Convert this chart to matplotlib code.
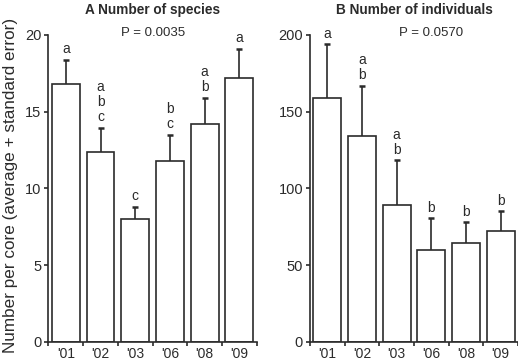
import numpy as np
import matplotlib
matplotlib.use("Agg")
from matplotlib import pyplot as plt

years = ["'01", "'02", "'03", "'06", "'08", "'09"]

species_mean = [16.8, 12.4, 8.0, 11.8, 14.2, 17.2]
species_se = [1.6, 1.55, 0.8, 1.7, 1.7, 1.9]
species_letters = ["a", "a\nb\nc", "c", "b\nc", "a\nb", "a"]

indiv_mean = [159, 134, 89.5, 60, 64.5, 72.5]
indiv_se = [35, 33, 29, 20.5, 13.5, 12.7]
indiv_letters = ["a", "a\nb", "a\nb", "b", "b", "b"]

plt.rcParams['font.family'] = ['Liberation Sans', 'DejaVu Sans']
INK = '#2b2b2b'


def draw_panel(ax, means, errs, letters, ymax, step, title, ptext, px):
    x = np.arange(len(means))
    tops = np.array(means) + np.array(errs)
    ax.bar(x, means, width=0.8, color='white', edgecolor=INK, linewidth=1.2,
           zorder=2)
    # only the upper half of the error bar is drawn
    ax.vlines(x, means, tops, colors=INK, linewidth=1.2, zorder=3)
    ax.plot(x, tops, linestyle='none', marker='_', markersize=4,
            markeredgewidth=1.8, color=INK, zorder=3)
    for xi, t, lab in zip(x, tops, letters):
        ax.annotate(lab, (xi, t), xytext=(0, 2.5),
                    textcoords='offset points', ha='center', va='bottom',
                    fontsize=10, color=INK, linespacing=1.1)
    ax.set_xlim(-0.5, len(means) - 0.5)
    ax.set_ylim(0, ymax)
    ax.set_yticks(np.arange(0, ymax + 1, step))
    ax.set_xticks(x)
    ax.set_xticklabels(years)
    ax.set_xticks(np.arange(-0.5, len(means), 1.0), minor=True)
    ax.tick_params(axis='x', which='major', length=0, pad=3.5, labelsize=10,
                   colors=INK)
    ax.tick_params(axis='x', which='minor', length=3, width=1.2, color=INK)
    ax.tick_params(axis='y', length=3, width=1.2, pad=2, labelsize=10.5,
                   colors=INK)
    for s in ('top', 'right'):
        ax.spines[s].set_visible(False)
    for s in ('left', 'bottom'):
        ax.spines[s].set_linewidth(1.2)
        ax.spines[s].set_color(INK)
    ax.set_title(title, fontsize=9.8, fontweight='bold', pad=15, color=INK)
    ax.text(px, 1.008, ptext, transform=ax.transAxes, ha='center',
            va='center', fontsize=9.5, color=INK)


def main():
    fig = plt.figure(figsize=(5.18, 3.63), dpi=100)
    ax1 = fig.add_axes([0.0936, 0.0579, 0.402, 0.8457])
    ax2 = fig.add_axes([0.5985, 0.0579, 0.4015, 0.8457])

    draw_panel(ax1, species_mean, species_se, species_letters, 20, 5,
               'A Number of species', 'P = 0.0035', 0.5)
    draw_panel(ax2, indiv_mean, indiv_se, indiv_letters, 200, 50,
               'B Number of individuals', 'P = 0.0570', 0.58)

    fig.text(0.021, 0.49, 'Number per core (average + standard error)',
             rotation=90, ha='center', va='center', fontsize=12.3, color=INK)

    fig.savefig('out.png', dpi=100)


if __name__ == '__main__':
    main()
